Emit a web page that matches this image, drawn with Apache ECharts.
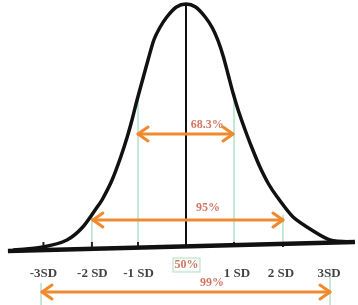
<!DOCTYPE html>
<html>
<head>
<meta charset="utf-8">
<script src="https://cdn.jsdelivr.net/npm/echarts@6/dist/echarts.min.js"></script>
<style>html,body{margin:0;padding:0;background:#fff}#c{width:358px;height:305px}</style>
</head>
<body>
<div id="c"></div>
<script>
// x in SD units, h = height above baseline (units)
const curveX = [-3.60, -2.98, -2.48, -2.15, -1.85, -1.75, -1.54, -1.36, -1.225, -1.12, -1.02, -0.90, -0.78, -0.67, -0.55, -0.40, -0.20, 0, 0.20, 0.40, 0.55, 0.67, 0.78, 0.88, 0.98, 1.10, 1.27, 1.40, 1.54, 1.72, 1.90, 2.23, 2.65, 3.0, 3.42];
const curveH = [-3, 0, 7, 20, 40, 47, 67, 90, 110, 128, 147, 168, 189, 207, 219, 230, 240, 243, 240, 230, 219, 206, 190, 172, 154, 135, 112, 96, 80, 63, 50, 30, 16, 7, 5];
const baseX = [-3.71, 3.52];
const baseH = [-4, 5];
const peakH = 243;
const sdLineX = [-1.0, 1.0, -1.96, 2.02];
const sdLineTop = [147, 150, 32, 32];
const outerLineX = [-3.02, 3.0];
const outerLineTop = [-36, -22];
const tickX = [-2.97, -1.96, -1.0, 1.0, 2.02];
const arrowH = [113, 27, -45];
const arrowFrom = [-1.0, -1.94, -3.0];
const arrowTo = [0.98, 2.02, 3.0];
const pctLabels = ['68.3%', '95%', '99%'];
const pctX = [0.44, 0.46, 0.54];
const pctH = [122, 39, -36];
const sdLabels = ['-3SD', '-2 SD', '-1 SD', '1 SD', '2 SD', '3SD'];
const sdLabelX = [-2.97, -1.95, -0.99, 1.06, 1.98, 2.98];
const sdLabelH = -27;
const midLabel = '50%';
const midX = 0.01, midH = -18;

const FONT = '"Liberation Serif", "DejaVu Serif", serif';
const GREEN = '#9fdab6';
const ORANGE = '#f08a2c';
const RED = '#c4553a';

const series = [];
sdLineX.forEach((x, i) => series.push({
  type: 'line', symbol: 'none', silent: true, z: 1,
  data: [[x, 0], [x, sdLineTop[i]]],
  lineStyle: { color: GREEN, width: 1.2 }
}));
outerLineX.forEach((x, i) => series.push({
  type: 'line', symbol: 'none', silent: true, z: 1,
  data: [[x, outerLineTop[i]], [x, -58]],
  lineStyle: { color: GREEN, width: 1.2 }
}));
tickX.forEach(x => series.push({
  type: 'line', symbol: 'none', silent: true, z: 2,
  data: [[x, 0], [x, 5]],
  lineStyle: { color: '#222', width: 2 }
}));
series.push({
  type: 'line', symbol: 'none', z: 3,
  data: [[0, 0], [0, peakH]],
  lineStyle: { color: '#111', width: 2 }
});
series.push({
  type: 'line', symbol: 'none', z: 4,
  data: baseX.map((x, i) => [x, baseH[i]]),
  lineStyle: { color: '#111', width: 4.5 }
});
series.push({
  type: 'line', symbol: 'none', smooth: 0.25, z: 5,
  data: curveX.map((x, i) => [x, curveH[i]]),
  lineStyle: { color: '#111', width: 3.5 }
});
series.push({
  type: 'custom', z: 6,
  data: arrowH.map((h, i) => [h, arrowFrom[i], arrowTo[i]]),
  renderItem: function (params, api) {
    const h = api.value(0);
    const p1 = api.coord([api.value(1), h]);
    const p2 = api.coord([api.value(2), h]);
    const st = { stroke: ORANGE, lineWidth: 3, fill: null, lineCap: 'round', lineJoin: 'round' };
    const L = 10, W = 7;
    return {
      type: 'group',
      children: [
        { type: 'line', shape: { x1: p1[0], y1: p1[1], x2: p2[0], y2: p2[1] }, style: st },
        { type: 'polyline', shape: { points: [[p1[0] + L, p1[1] - W], p1, [p1[0] + L, p1[1] + W]] }, style: st },
        { type: 'polyline', shape: { points: [[p2[0] - L, p2[1] - W], p2, [p2[0] - L, p2[1] + W]] }, style: st }
      ]
    };
  }
});
series.push({
  type: 'scatter', symbolSize: 0, z: 7,
  data: pctLabels.map((t, i) => ({ name: t, value: [pctX[i], pctH[i]] })),
  label: { show: true, position: 'inside', formatter: '{b}', color: RED, fontFamily: FONT, fontWeight: 'bold', fontSize: 12 }
});
series.push({
  type: 'scatter', symbolSize: 0, z: 7,
  data: [{ name: midLabel, value: [midX, midH] }],
  label: { show: true, position: 'inside', formatter: '{b}', color: RED, fontFamily: FONT, fontWeight: 'bold', fontSize: 12,
    borderColor: GREEN, borderWidth: 1, padding: [1, 1, 0, 1], backgroundColor: '#fff' }
});
series.push({
  type: 'scatter', symbolSize: 0, z: 7,
  data: sdLabels.map((t, i) => ({ name: t, value: [sdLabelX[i], sdLabelH] })),
  label: { show: true, position: 'inside', formatter: '{b}', color: '#111', fontFamily: FONT, fontWeight: 'bold', fontSize: 13 }
});

const chart = echarts.init(document.getElementById('c'), null, { renderer: 'canvas' });
chart.setOption({
  animation: false,
  backgroundColor: '#fff',
  grid: { left: 0, right: 0, top: 0, bottom: 0 },
  xAxis: { type: 'value', min: -3.875, max: 3.583, show: false },
  yAxis: { type: 'value', min: -58, max: 247, show: false },
  series: series
});
</script>
</body>
</html>
